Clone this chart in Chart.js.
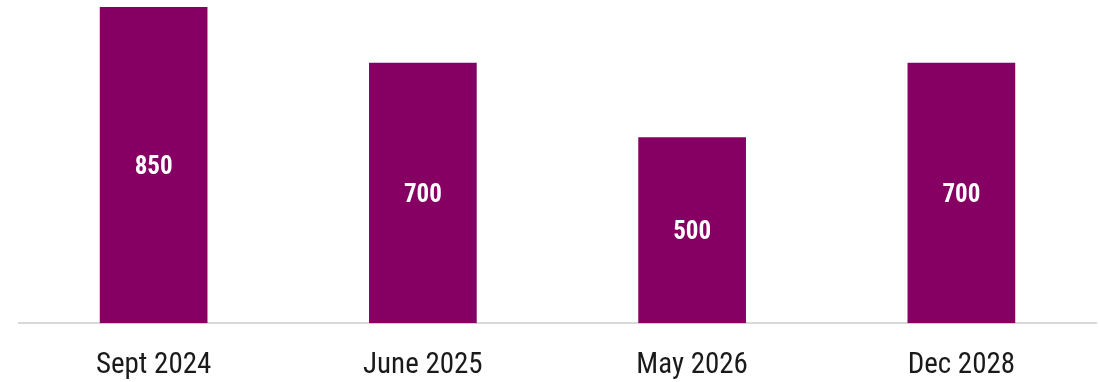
<!DOCTYPE html>
<html>
<head>
<meta charset="utf-8">
<script src="https://cdn.jsdelivr.net/npm/chart.js@4"></script>
<style>
    html, body { margin: 0; padding: 0; background: #ffffff; }
    #wrap { width: 1099px; height: 382px; }
</style>
</head>
<body>
<div id="wrap"><canvas id="launches"></canvas></div>
<script>
    const categories = ['Sept 2024', 'June 2025', 'May 2026', 'Dec 2028'];
    const values = [850, 700, 500, 700];

    const barColor = '#850062';
    const fontFamily = "'Roboto Condensed', 'Liberation Sans Narrow', 'Arial Narrow', sans-serif";

    // 막대 가운데 값 표시
    const valueLabels = {
        id: 'valueLabels',
        afterDatasetsDraw(chart) {
            const ctx = chart.ctx;
            const meta = chart.getDatasetMeta(0);
            ctx.save();
            ctx.fillStyle = '#ffffff';
            ctx.font = 'bold 25px ' + fontFamily;
            ctx.textAlign = 'center';
            ctx.textBaseline = 'middle';
            meta.data.forEach((bar, i) => {
                const mid = (bar.y + bar.base) / 2 + 3;
                ctx.fillText(String(values[i]), bar.x, mid);
            });
            ctx.restore();
        }
    };

    new Chart(document.getElementById('launches').getContext('2d'), {
        type: 'bar',
        data: {
            labels: categories,
            datasets: [{
                data: values,
                backgroundColor: barColor,
                borderWidth: 0,
                categoryPercentage: 1,
                barPercentage: 0.4
            }]
        },
        options: {
            responsive: true,
            maintainAspectRatio: false,
            animation: false,
            layout: {
                padding: { left: 19, right: 3, top: 7, bottom: -18 }
            },
            plugins: {
                legend: { display: false },
                tooltip: { enabled: false }
            },
            scales: {
                x: {
                    grid: { display: false },
                    border: { display: true, color: '#d9d9d9', width: 2 },
                    ticks: {
                        color: '#1a1a1a',
                        padding: 17,
                        font: { family: fontFamily, size: 29 }
                    }
                },
                y: {
                    display: false,
                    min: 0,
                    max: 850
                }
            }
        },
        plugins: [valueLabels]
    });
</script>
</body>
</html>
